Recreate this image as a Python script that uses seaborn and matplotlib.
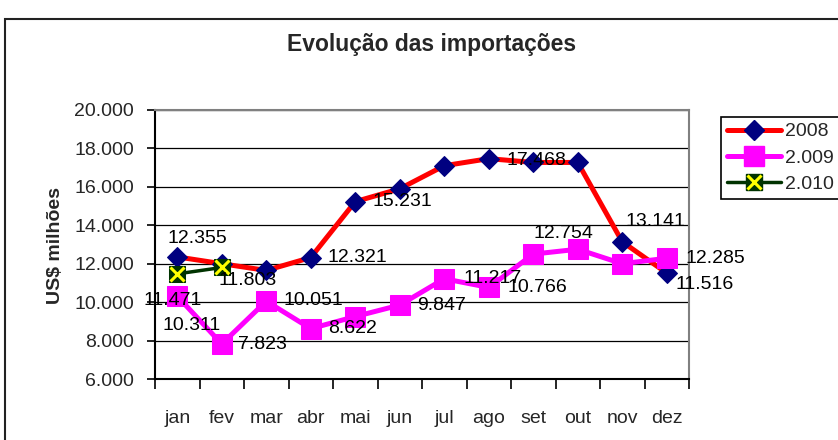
import numpy as np
import matplotlib
matplotlib.use("Agg")
import matplotlib.pyplot as plt
from matplotlib.lines import Line2D
from matplotlib.patches import Rectangle
from matplotlib.legend_handler import HandlerTuple
import seaborn as sns

# ── Data (US$ milhões) ────────────────────────────────────────────────────────
months = ["jan", "fev", "mar", "abr", "mai", "jun",
          "jul", "ago", "set", "out", "nov", "dez"]
imp_2008 = [12355, 12000, 11650, 12321, 15231, 15900,
            17100, 17468, 17270, 17270, 13141, 11516]
imp_2009 = [10311, 7823, 10051, 8622, 9250, 9847,
            11217, 10766, 12500, 12754, 12000, 12285]
imp_2010 = [11471, 11803]
series_names = ["2008", "2.009", "2.010"]
y_ticks = [6000, 8000, 10000, 12000, 14000, 16000, 18000, 20000]

# which points carry a value label, and where the label sits (pixel offsets)
labels_2008 = {0: (20, 18), 3: (47, 0), 4: (47, 0), 7: (48, -2), 10: (33, 20), 11: (38, -11)}
labels_2009 = {0: (14, -29), 1: (41, -1), 2: (47, 1), 3: (42, 0), 5: (42, 0),
               6: (48, 0), 7: (49, 0), 9: (-14, 16), 11: (49, 0)}
labels_2010 = {0: (-5, -27), 1: (26, -13)}

# ── Style ─────────────────────────────────────────────────────────────────────
sns.set_style("white")
plt.rcParams["font.family"] = ["Liberation Sans", "DejaVu Sans"]
FS = 14

W, H = 838, 440
fig = plt.figure(figsize=(W / 100, H / 100), dpi=100)
ax = fig.add_axes([155 / W, 1 - 379 / H, (689 - 155) / W, (379 - 110) / H])

x = np.arange(len(months))

sns.lineplot(x=x, y=imp_2008, ax=ax, color="#FF0000", lw=3.6, marker="D",
             markersize=10, markerfacecolor="#000080", markeredgecolor="#000080",
             zorder=3, legend=False)
sns.lineplot(x=x, y=imp_2009, ax=ax, color="#FF00FF", lw=3.6, marker="s",
             markersize=14, markerfacecolor="#FF00FF", markeredgecolor="#FF00FF",
             zorder=4, legend=False)
sns.lineplot(x=x[:len(imp_2010)], y=imp_2010, ax=ax, color="#003300", lw=2.5,
             marker="s", markersize=11, markerfacecolor="#003300",
             markeredgecolor="#003300", zorder=5, legend=False)
ax.plot(x[:len(imp_2010)], imp_2010, ls="", marker="x", markersize=10,
        mew=2.2, color="#FFFF00", zorder=6)


def fmt(v):
    return f"{v:,}".replace(",", ".")


for vals, lab in [(imp_2008, labels_2008), (imp_2009, labels_2009), (imp_2010, labels_2010)]:
    for i, (dx, dy) in lab.items():
        ax.annotate(fmt(vals[i]), (x[i], vals[i]), xytext=(dx, dy),
                    textcoords="offset pixels", ha="center", va="center",
                    fontsize=FS, color="black", zorder=10,
                    annotation_clip=False)

# ── Axes ──────────────────────────────────────────────────────────────────────
ax.set_xlim(-0.5, len(months) - 0.5)
ax.set_ylim(y_ticks[0], y_ticks[-1])
ax.set_yticks(y_ticks)
ax.set_yticklabels([fmt(v) for v in y_ticks], fontsize=FS)
ax.set_xticks(x)
ax.set_xticklabels(months, fontsize=FS)
ax.set_xticks(np.arange(-0.5, len(months)), minor=True)
ax.tick_params(axis="x", which="major", length=0, pad=22)
ax.tick_params(axis="x", which="minor", length=7, width=1.2, direction="out",
               color="black", bottom=True)
ax.tick_params(axis="y", length=6, width=1.2, direction="out", color="black",
               left=True, pad=9)
ax.yaxis.grid(True, color="black", lw=0.9)
ax.set_axisbelow(True)
ax.set_xlabel("")
ax.set_ylabel("")
for side in ["left", "bottom"]:
    ax.spines[side].set_color("black")
    ax.spines[side].set_linewidth(1.5)
for side in ["right", "top"]:
    ax.spines[side].set_color("#808080")
    ax.spines[side].set_linewidth(1.5)

fig.text(432 / W, 1 - 45 / H, "Evolução das importações", ha="center",
         va="center", fontsize=16.5, fontweight="bold")
fig.text(55 / W, 1 - 246 / H, "US$ milhões", ha="center", va="center",
         rotation=90, fontsize=14, fontweight="bold")

# outer chart frame
fig.add_artist(Rectangle((5 / W, -0.1), 1.2, 1 - 19 / H + 0.1,
                         transform=fig.transFigure, fill=False,
                         ec="#222222", lw=1.5))

# ── Legend ────────────────────────────────────────────────────────────────────
h08 = Line2D([], [], color="#FF0000", lw=3.6, marker="D", markersize=10,
             markerfacecolor="#000080", markeredgecolor="#000080")
h09 = Line2D([], [], color="#FF00FF", lw=3.6, marker="s", markersize=14,
             markerfacecolor="#FF00FF", markeredgecolor="#FF00FF")
h10a = Line2D([], [], color="#003300", lw=2.5, marker="s", markersize=11,
              markerfacecolor="#003300", markeredgecolor="#003300")
h10b = Line2D([], [], ls="", marker="x", markersize=10, mew=2.2, color="#FFFF00")
leg = fig.legend([h08, h09, (h10a, h10b)], series_names, loc="upper left",
                 bbox_to_anchor=(721 / W, 1 - 117 / H), fontsize=FS,
                 handlelength=2.8, handletextpad=0.2, labelspacing=0.45,
                 borderpad=0.3, borderaxespad=0, fancybox=False,
                 frameon=True, edgecolor="black", framealpha=1,
                 handler_map={tuple: HandlerTuple(ndivide=1)})
leg.get_frame().set_linewidth(1.2)

fig.savefig("out.png", dpi=100)
